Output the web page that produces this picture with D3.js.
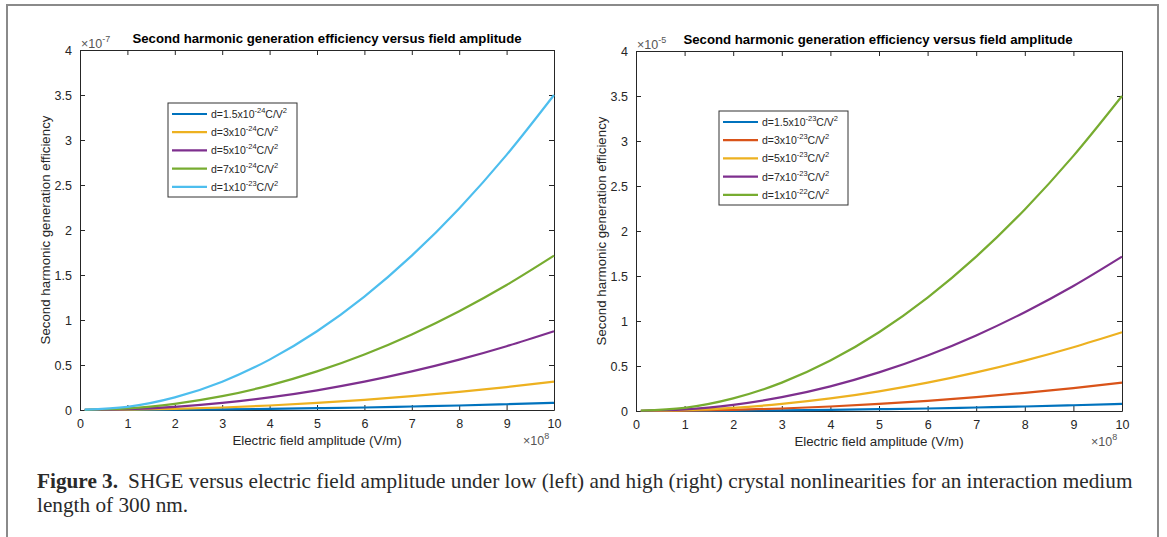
<!DOCTYPE html>
<html>
<head>
<meta charset="utf-8">
<script src="https://cdn.jsdelivr.net/npm/d3@7"></script>
<style>
  html, body { margin: 0; padding: 0; background: #fff; }
  svg { display: block; }
</style>
</head>
<body>
<div id="chart"></div>
<script>
/* ── Data (x in 1e8 V/m, y in 1e-7 left / 1e-5 right) ── */
const fieldAmp = [0.1, 1, 2, 3, 4, 5, 6, 7, 8, 9, 10];
const xTicks = [0, 1, 2, 3, 4, 5, 6, 7, 8, 9, 10];
const yTicks = [0, 0.5, 1, 1.5, 2, 2.5, 3, 3.5, 4];

const seriesA = [0, 0.001, 0.003, 0.007, 0.013, 0.020, 0.028, 0.039, 0.050, 0.064, 0.079];
const seriesB = [0, 0.003, 0.013, 0.028, 0.050, 0.079, 0.113, 0.154, 0.202, 0.255, 0.315];
const seriesC = [0.001, 0.009, 0.035, 0.079, 0.140, 0.219, 0.315, 0.429, 0.560, 0.709, 0.875];
const seriesD = [0.002, 0.017, 0.069, 0.154, 0.274, 0.429, 0.617, 0.840, 1.098, 1.389, 1.715];
const seriesE = [0.004, 0.035, 0.140, 0.315, 0.560, 0.875, 1.260, 1.715, 2.240, 2.835, 3.500];

const leftCoef = ["1.5", "3", "5", "7", "1"];
const leftExp = ["-24", "-24", "-24", "-24", "-23"];
const leftColors = ["#0072BD", "#EDB120", "#7E2F8E", "#77AC30", "#4DBEEE"];

const rightCoef = ["1.5", "3", "5", "7", "1"];
const rightExp = ["-23", "-23", "-23", "-23", "-22"];
const rightColors = ["#0072BD", "#D95319", "#EDB120", "#7E2F8E", "#77AC30"];

const titleText = "Second harmonic generation efficiency versus field amplitude";
const xLabelText = "Electric field amplitude (V/m)";
const yLabelText = "Second harmonic generation efficiency";

const W = 1167, H = 537;
const INK = "#262626";

const svg = d3.select("#chart").append("svg")
  .attr("width", W).attr("height", H)
  .style("font-family", "Arial, 'Liberation Sans', Helvetica, sans-serif");

/* ── Page frame ── */
svg.append("path")
  .attr("d", `M7,${H + 5} L7,5 L1158,5 L1158,${H + 5}`)
  .attr("fill", "none").attr("stroke", "#8a8a8a").attr("stroke-width", 2);

function drawPanel(o) {
  const x = d3.scaleLinear().domain([0, 10]).range([o.x0, o.x1]);
  const y = d3.scaleLinear().domain([0, 4]).range([o.y1, o.y0]);
  const g = svg.append("g");
  const series = [seriesA, seriesB, seriesC, seriesD, seriesE];

  /* ticks on all four sides, pointing inward */
  g.append("g").attr("transform", `translate(0,${o.y1})`)
    .call(d3.axisBottom(x).tickValues(xTicks).tickSizeInner(-5).tickSizeOuter(0).tickPadding(9).tickFormat(d => d));
  g.append("g").attr("transform", `translate(0,${o.y0})`)
    .call(d3.axisTop(x).tickValues(xTicks).tickSizeInner(-5).tickSizeOuter(0).tickFormat(""));
  g.append("g").attr("transform", `translate(${o.x0},0)`)
    .call(d3.axisLeft(y).tickValues(yTicks).tickSizeInner(-5).tickSizeOuter(0).tickPadding(8).tickFormat(d => d));
  g.append("g").attr("transform", `translate(${o.x1},0)`)
    .call(d3.axisRight(y).tickValues(yTicks).tickSizeInner(-5).tickSizeOuter(0).tickFormat(""));

  g.selectAll(".domain").attr("stroke", INK);
  g.selectAll(".tick line").attr("stroke", INK);
  g.selectAll(".tick text").attr("fill", INK).attr("font-size", 12.5);

  /* curves */
  const line = d3.line().x((d, i) => x(fieldAmp[i])).y(d => y(d)).curve(d3.curveMonotoneX);
  g.selectAll("path.curve").data(series).enter().append("path")
    .attr("class", "curve")
    .attr("d", line)
    .attr("fill", "none")
    .attr("stroke", (d, i) => o.colors[i])
    .attr("stroke-width", 2.2);

  /* exponent labels */
  const ex = g.append("text").attr("x", o.x0 + 1).attr("y", o.y0 - 2)
    .attr("font-size", 12.5).attr("fill", "#555");
  ex.append("tspan").text("\u00d710");
  ex.append("tspan").attr("dy", -6).attr("font-size", 9).text(o.yExp);

  const ex2 = g.append("text").attr("x", o.x1 - 31).attr("y", o.y1 + 35)
    .attr("font-size", 12.5).attr("fill", "#555");
  ex2.append("tspan").text("\u00d710");
  ex2.append("tspan").attr("dy", -6).attr("font-size", 9).text("8");

  /* title and axis labels */
  g.append("text").attr("x", o.titleX).attr("y", o.y0 - 7)
    .attr("text-anchor", "middle").attr("font-weight", "bold").attr("font-size", 13.2)
    .attr("fill", "#000").text(titleText);
  g.append("text").attr("x", (o.x0 + o.x1) / 2).attr("y", o.y1 + 35)
    .attr("text-anchor", "middle").attr("font-size", 13.3).attr("fill", INK).text(xLabelText);
  g.append("text")
    .attr("transform", `translate(${o.x0 - 30},${(o.y0 + o.y1) / 2}) rotate(-90)`)
    .attr("text-anchor", "middle").attr("font-size", 13.3).attr("fill", INK).text(yLabelText);

  /* legend */
  const lg = g.append("g").attr("transform", `translate(${o.legX},${o.legY})`);
  lg.append("rect").attr("width", o.legW).attr("height", 94)
    .attr("fill", "#fff").attr("stroke", "#333").attr("stroke-width", 1);
  o.coef.forEach((c, i) => {
    const ry = 11 + i * 18.2;
    lg.append("line").attr("x1", 4).attr("x2", 39).attr("y1", ry).attr("y2", ry)
      .attr("stroke", o.colors[i]).attr("stroke-width", 2.2);
    const t = lg.append("text").attr("x", 43).attr("y", ry + 4)
      .attr("font-size", 10.5).attr("fill", INK);
    t.append("tspan").text(`d=${c}x10`);
    t.append("tspan").attr("dy", -5).attr("font-size", 7.5).text(o.exp[i]);
    t.append("tspan").attr("dy", 5).text("C/V");
    t.append("tspan").attr("dy", -5).attr("font-size", 7.5).text("2");
  });
}

drawPanel({ x0: 80, x1: 554, y0: 50, y1: 410, titleX: 327, yExp: "-7",
  colors: leftColors, coef: leftCoef, exp: leftExp, legX: 168, legY: 103, legW: 129 });
drawPanel({ x0: 636, x1: 1122, y0: 51, y1: 411, titleX: 878, yExp: "-5",
  colors: rightColors, coef: rightCoef, exp: rightExp, legX: 719, legY: 111, legW: 129 });

/* ── Caption ── */
const cap = svg.append("g").style("font-family", "'Liberation Serif', 'Times New Roman', serif").attr("fill", "#2a2a2a");
const l1 = cap.append("text").attr("x", 37).attr("y", 488).attr("font-size", 19);
l1.append("tspan").attr("font-weight", "bold").text("Figure 3.");
l1.append("tspan").attr("dx", 10)
  .text("SHGE versus electric field amplitude under low (left) and high (right) crystal nonlinearities for an interaction medium");
const w1 = l1.node().getBBox().width;
const fs = 19 * 1097 / w1;
l1.attr("font-size", fs);
cap.append("text").attr("x", 37).attr("y", 512).attr("font-size", fs).text("length of 300 nm.");
</script>
</body>
</html>
